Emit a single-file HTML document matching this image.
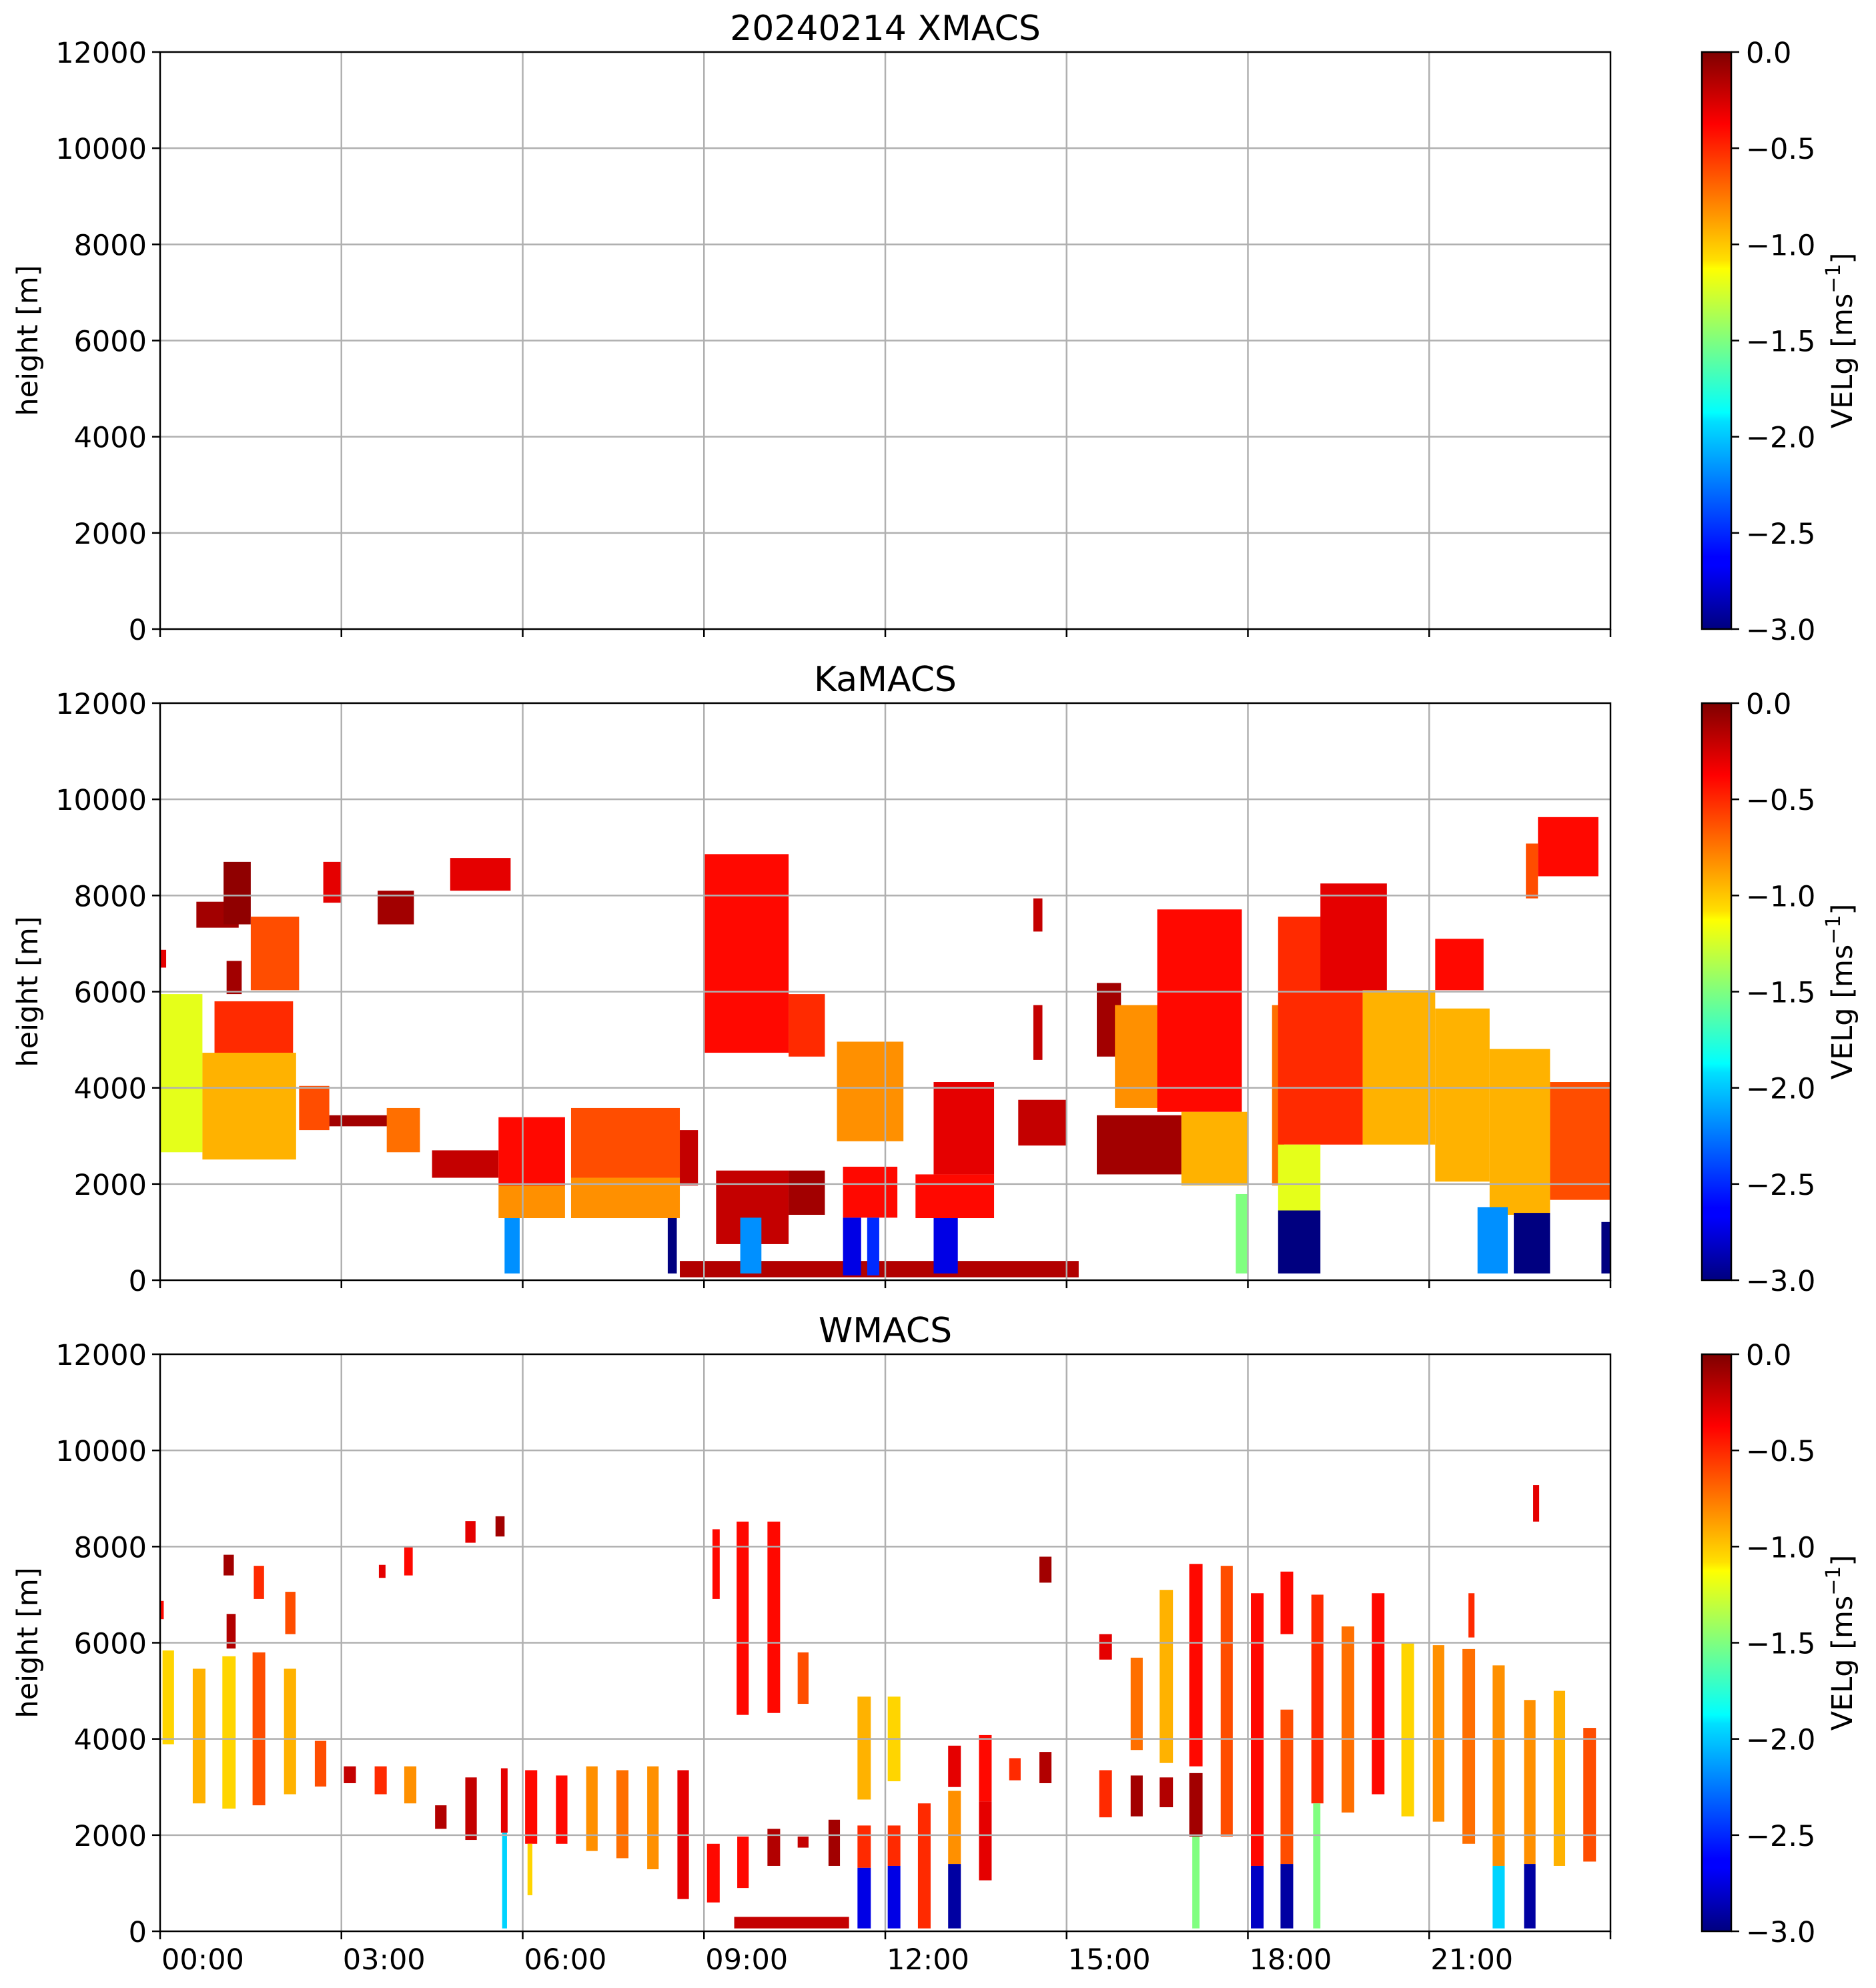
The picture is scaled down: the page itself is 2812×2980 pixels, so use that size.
<!DOCTYPE html>
<html><head><meta charset="utf-8">
<style>
html,body{margin:0;padding:0;background:#fff;}
svg{display:block;font-family:"DejaVu Sans","Liberation Sans",sans-serif;}
</style></head>
<body>
<svg id="fig" width="2812" height="2980" viewBox="0 0 2812 2980" xmlns="http://www.w3.org/2000/svg">
<defs>
<linearGradient id="jetgrad" x1="0" y1="1" x2="0" y2="0">
<stop offset="0" stop-color="#00007f"/><stop offset="0.11" stop-color="#0000ff"/><stop offset="0.125" stop-color="#0000ff"/>
<stop offset="0.36" stop-color="#00e0ff"/><stop offset="0.375" stop-color="#00ffff"/><stop offset="0.5" stop-color="#7fff7f"/>
<stop offset="0.625" stop-color="#ffff00"/><stop offset="0.64" stop-color="#ffe000"/><stop offset="0.875" stop-color="#ff0000"/>
<stop offset="0.89" stop-color="#f00000"/><stop offset="1" stop-color="#7f0000"/>
</linearGradient>
</defs>
</svg>
<script>
// ---- data: time range, heights, velocity blocks [t0(h), t1(h), hBottom(m), hTop(m), VELg(m/s)] ----
const xTickLabels = ["00:00","03:00","06:00","09:00","12:00","15:00","18:00","21:00"];
const xTickHours = [0,3,6,9,12,15,18,21,24];
const yTicks = [0,2000,4000,6000,8000,10000,12000];
const cbTicks = [0.0,-0.5,-1.0,-1.5,-2.0,-2.5,-3.0];
const panelTitles = ["20240214 XMACS","KaMACS","WMACS"];
const xmacsBlocks = [];
const kamacsBlocks = [
 [0,0.7,2660,5950,-1.2],[0.7,2.25,2510,4730,-0.9],[0.9,2.2,4730,5800,-0.5],[2.3,2.8,3120,4040,-0.6],
 [2.8,4.0,3200,3430,-0.1],[3.75,4.3,2660,3580,-0.7],[4.5,5.6,2130,2700,-0.2],
 [5.6,6.7,1970,3390,-0.4],[5.6,6.7,1290,1970,-0.8],[5.7,5.95,140,1290,-2.2],
 [6.8,8.6,2130,3580,-0.6],[6.8,8.6,1290,2130,-0.8],[8.4,8.55,140,1290,-3.0],[8.6,8.9,1970,3120,-0.2],
 [0.6,1.3,7330,7870,-0.1],[1.05,1.5,7400,8700,-0.05],[1.5,2.3,6030,7560,-0.6],[1.1,1.35,5950,6640,-0.1],
 [2.7,3.0,7850,8700,-0.3],[3.6,4.2,7400,8100,-0.1],[4.8,5.8,8100,8780,-0.3],[0,0.1,6500,6870,-0.3],
 [9.0,10.4,4730,8860,-0.4],[10.4,11.0,4650,5950,-0.5],[11.2,12.3,2890,4960,-0.8],
 [8.6,15.2,60,400,-0.15],[9.2,10.4,750,2280,-0.2],[10.4,11.0,1360,2280,-0.1],
 [9.6,9.95,140,1300,-2.2],[11.3,12.2,1300,2360,-0.4],[11.3,11.6,100,1300,-2.7],[11.7,11.9,100,1300,-2.5],
 [12.5,13.8,1290,2200,-0.4],[12.8,13.8,2200,4120,-0.3],[12.8,13.2,140,1290,-2.7],
 [14.2,15.0,2800,3750,-0.2],[15.5,16.9,2200,3430,-0.1],[15.5,15.9,4650,6180,-0.1],
 [15.8,16.9,3580,5720,-0.8],[16.5,17.9,3500,7710,-0.4],[16.9,18.0,1970,3500,-0.9],
 [18.4,18.6,1970,5720,-0.7],[18.5,19.9,2820,7560,-0.5],[18.5,19.2,1450,2820,-1.2],[18.5,19.2,140,1450,-3.0],
 [19.9,21.1,2820,6030,-0.9],[21.1,22.0,2050,5650,-0.9],[22.0,23.0,1360,4810,-0.9],[23.0,24.0,1670,4120,-0.6],
 [19.2,20.3,6030,8250,-0.3],[21.1,21.9,6030,7100,-0.4],[21.8,22.3,140,1520,-2.2],[22.4,23.0,140,1400,-3.0],
 [23.85,24.0,140,1210,-3.0],[22.8,23.8,8400,9630,-0.4],[22.6,22.8,7940,9080,-0.6],[17.8,18.0,140,1790,-1.5],
 [14.45,14.6,4580,5720,-0.2],[14.45,14.6,7250,7940,-0.2]
];
const wmacsBlocks = [
 [0.04,0.23,3890,5840,-1.0],[0.54,0.75,2660,5460,-0.9],[1.03,1.25,2550,5720,-1.0],[1.53,1.74,2620,5800,-0.6],
 [2.05,2.25,2850,5460,-0.9],[2.56,2.75,3010,3960,-0.6],[3.04,3.24,3080,3430,-0.2],[3.55,3.75,2850,3430,-0.5],
 [4.04,4.24,2660,3430,-0.8],[4.55,4.74,2130,2620,-0.15],[5.05,5.24,1900,3200,-0.2],
 [5.64,5.75,2050,3390,-0.3],[5.66,5.74,60,2050,-2.0],[6.04,6.24,1820,3350,-0.4],[6.08,6.16,750,1820,-1.0],
 [6.55,6.74,1820,3240,-0.4],[7.05,7.24,1670,3430,-0.8],[7.55,7.75,1520,3350,-0.7],[8.06,8.25,1290,3430,-0.8],
 [8.56,8.75,670,3350,-0.3],[9.05,9.26,600,1820,-0.4],[9.55,9.74,900,1970,-0.4],[10.05,10.26,1360,2130,-0.15],
 [10.55,10.73,1740,1970,-0.2],[11.06,11.25,1360,2320,-0.1],[11.54,11.76,1320,2200,-0.5],[11.54,11.76,60,1320,-2.7],
 [11.54,11.76,2740,4880,-0.9],[9.14,9.26,6910,8360,-0.4],[9.54,9.74,4500,8520,-0.4],[10.05,10.26,4540,8520,-0.4],
 [10.55,10.73,4730,5800,-0.6],[0.0,0.06,6490,6870,-0.4],[1.1,1.25,5880,6600,-0.15],[1.55,1.72,6910,7600,-0.5],
 [2.07,2.24,6180,7060,-0.6],[1.05,1.22,7400,7830,-0.1],[3.62,3.73,7350,7620,-0.3],[4.04,4.18,7400,8000,-0.4],
 [5.55,5.7,8210,8630,-0.1],[5.05,5.22,8080,8530,-0.3],[9.5,11.4,60,300,-0.2],
 [12.04,12.25,3120,4880,-1.0],[12.04,12.25,1360,2200,-0.5],[12.04,12.25,60,1360,-2.7],
 [12.54,12.75,60,2660,-0.5],[13.04,13.25,3000,3860,-0.3],[13.04,13.25,1400,2920,-0.8],[13.04,13.25,60,1400,-2.9],
 [13.55,13.76,2700,4080,-0.4],[13.55,13.76,1060,2700,-0.3],[14.05,14.24,3140,3600,-0.5],[14.55,14.75,3080,3730,-0.15],
 [14.55,14.75,7250,7790,-0.1],[15.54,15.75,5650,6180,-0.3],[15.54,15.75,2370,3350,-0.5],
 [16.06,16.26,3770,5690,-0.7],[16.06,16.26,2390,3240,-0.1],[16.54,16.76,3500,7100,-0.9],[16.54,16.76,2580,3200,-0.15],
 [17.03,17.25,3430,7640,-0.4],[17.03,17.25,1970,3290,-0.1],[17.08,17.2,60,1970,-1.5],[17.55,17.75,1970,7600,-0.6],
 [18.05,18.26,1360,7030,-0.4],[18.05,18.26,60,1360,-2.8],[18.54,18.75,6180,7480,-0.4],[18.54,18.75,1400,4610,-0.6],
 [18.54,18.75,60,1400,-2.9],[19.05,19.25,2660,7000,-0.5],[19.08,19.2,60,2660,-1.5],[19.55,19.76,2470,6340,-0.7],
 [20.05,20.26,2850,7030,-0.4],[20.54,20.75,2390,5990,-1.0],[21.06,21.25,2280,5950,-0.8],[21.55,21.76,1820,5870,-0.7],
 [22.05,22.25,1360,5530,-0.8],[22.05,22.25,60,1360,-2.0],[22.57,22.76,1400,4810,-0.8],[22.57,22.76,60,1400,-2.9],
 [23.06,23.25,1360,5000,-0.9],[23.55,23.76,1450,4230,-0.6],[22.72,22.82,8520,9280,-0.3],[21.65,21.75,6110,7030,-0.5]
];
// ---- layout ----
const L=240, R=2414, PH=865, tops=[78,1054,2030];
const CBX=2551, CBW=44;
const NS="http://www.w3.org/2000/svg";
const svg=document.getElementById('fig');
function mk(tag,attrs,parent){const e=document.createElementNS(NS,tag);for(const k in attrs)e.setAttribute(k,attrs[k]);(parent||svg).appendChild(e);return e;}
function xScale(h){return L+(h/24)*(R-L);}
function yScale(m,top){return top+PH-(m/12000)*PH;}
function cl(v){return Math.max(0,Math.min(1,v));}
function jet(v){const t=(v+3)/3;const r=cl(1.5-Math.abs(4*t-3)),g=cl(1.5-Math.abs(4*t-2)),b=cl(1.5-Math.abs(4*t-1));
 return `rgb(${Math.round(r*255)},${Math.round(g*255)},${Math.round(b*255)})`;}
const allBlocks=[xmacsBlocks,kamacsBlocks,wmacsBlocks];
const panelNames=["xmacs","kamacs","wmacs"];
tops.forEach((top,pi)=>{
 const g=mk('g',{});
 
 
 allBlocks[pi].forEach(b=>{
  const x0=xScale(b[0]),x1=xScale(b[1]),y0=yScale(b[3],top),y1=yScale(b[2],top);
  const r=mk('rect',{x:x0,y:y0,width:Math.max(1,x1-x0),height:y1-y0,fill:jet(b[4])},g);
  
  
 });
 xTickHours.forEach(h=>{if(h>0&&h<24){const l=mk('line',{x1:xScale(h),x2:xScale(h),y1:top,y2:top+PH,stroke:'#b0b0b0','stroke-width':2.5},g);
  
  }});
 yTicks.forEach(v=>{if(v>0&&v<12000){const l=mk('line',{x1:L,x2:R,y1:yScale(v,top),y2:yScale(v,top),stroke:'#b0b0b0','stroke-width':2.5},g);
  
  }});
 const fr=mk('rect',{x:L,y:top,width:R-L,height:PH,fill:'none',stroke:'#000','stroke-width':2.5},g);
 
 
 yTicks.forEach(v=>{const y=yScale(v,top);mk('line',{x1:L-12,x2:L,y1:y,y2:y,stroke:'#000','stroke-width':2.5},g);
  const t=mk('text',{x:L-20,y:y+16,'text-anchor':'end','font-size':43},g);t.textContent=v;
  
  });
 xTickHours.forEach(h=>{mk('line',{x1:xScale(h),x2:xScale(h),y1:top+PH,y2:top+PH+12,stroke:'#000','stroke-width':2.5},g);});
 if(pi===2){xTickLabels.forEach((s,i)=>{const t=mk('text',{x:xScale(xTickHours[i])+2,y:top+PH+57,'font-size':43},g);t.textContent=s;
  
  });}
 const tt=mk('text',{x:(L+R)/2,y:top-18,'text-anchor':'middle','font-size':52},g);tt.textContent=panelTitles[pi];
 
 
 const yl=mk('text',{x:0,y:0,'text-anchor':'middle','font-size':43,transform:`translate(56,${top+PH/2}) rotate(-90)`},g);yl.textContent='height [m]';
 
 
 const cb=mk('g',{},g);
 
 
 mk('rect',{x:CBX,y:top,width:CBW,height:PH,fill:'url(#jetgrad)',stroke:'#000','stroke-width':2.5},cb);
 cbTicks.forEach(v=>{const y=top+PH*(-v/3);mk('line',{x1:CBX+CBW,x2:CBX+CBW+12,y1:y,y2:y,stroke:'#000','stroke-width':2.5},cb);
  const t=mk('text',{x:CBX+CBW+22,y:y+16,'font-size':43},cb);t.textContent=(v===0?'0.0':'\u2212'+Math.abs(v).toFixed(1));
  
  });
 const cl2=mk('text',{x:0,y:0,'text-anchor':'middle','font-size':43,transform:`translate(2776,${top+PH/2}) rotate(-90)`},cb);
 cl2.innerHTML='VELg [ms<tspan dy="-18" font-size="30">\u22121</tspan><tspan dy="18">]</tspan>';
 
 
});
</script>
</body></html>
